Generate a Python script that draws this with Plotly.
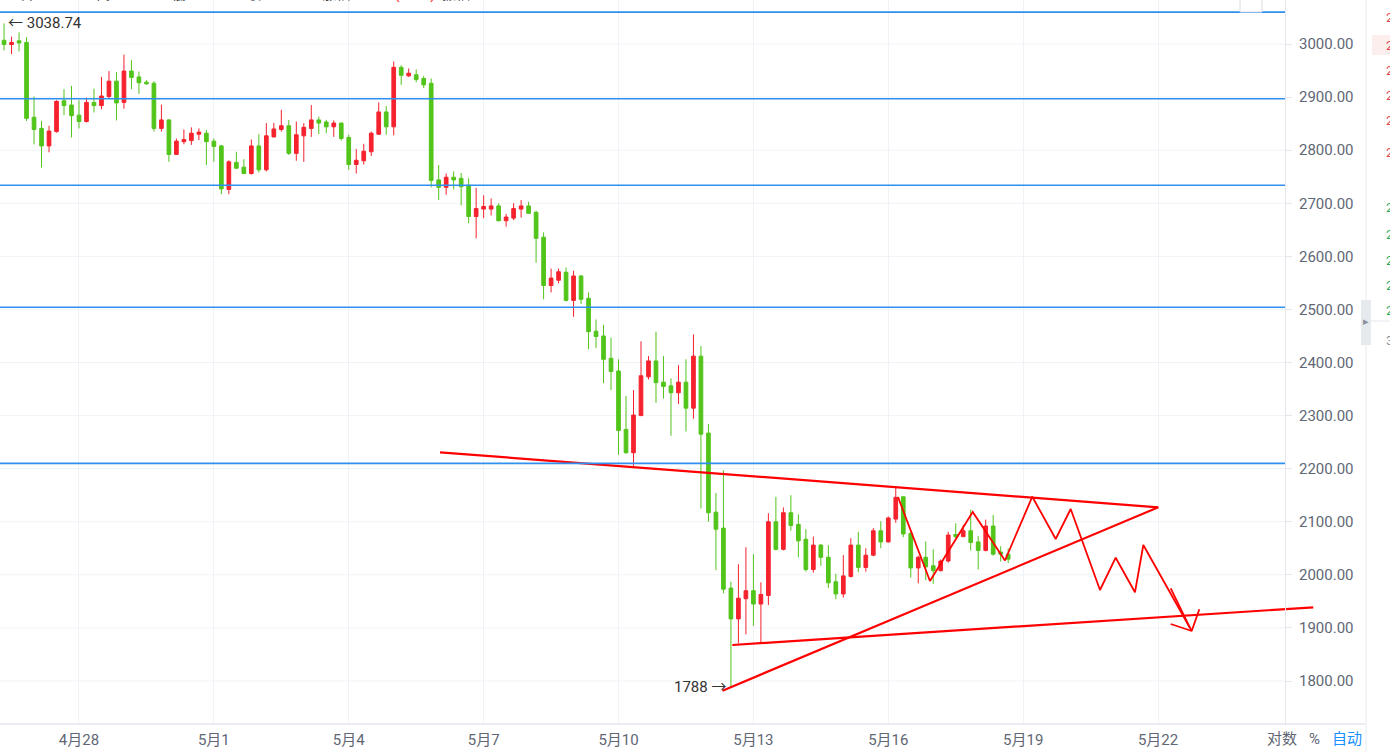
import plotly.graph_objects as go
import pandas as pd

# ---------------- data (ETH/USDT, 4h candles) ----------------
first_candle = "2022-04-26 04:00"
opens = [3011, 3007, 2999, 3006, 3003, 2862, 2841, 2808, 2835, 2893,
         2885, 2866, 2854, 2890, 2884, 2901, 2930, 2890, 2949, 2938,
         2928, 2926, 2841, 2857, 2792, 2816, 2818, 2830, 2832, 2817,
         2808, 2726, 2777, 2768, 2756, 2808, 2763, 2825, 2839, 2846,
         2794, 2827, 2841, 2857, 2853, 2844, 2851, 2824, 2773, 2780,
         2797, 2830, 2872, 2844, 2956, 2940, 2942, 2935, 2926, 2744,
         2730, 2749, 2747, 2734, 2675, 2689, 2689, 2695, 2667, 2672,
         2689, 2695, 2683, 2636, 2545, 2555, 2570, 2517, 2563, 2521,
         2459, 2450, 2408, 2384, 2274, 2230, 2300, 2373, 2403, 2363,
         2356, 2343, 2363, 2314, 2412, 2267, 2118, 2088, 1975, 1917,
         1955, 1970, 1945, 1961, 2100, 2048, 2117, 2095, 2067, 2010,
         2056, 2033, 1987, 1964, 1997, 2056, 2014, 2037, 2083, 2062,
         2105, 2147, 2078, 2013, 2033, 2017, 2008, 2026, 2076, 2072,
         2083, 2062, 2046, 2092, 2043, 2038.87]
highs = [3020, 3038.74, 3014, 3022, 3013, 2901, 2855, 2846, 2894, 2915,
         2921, 2894, 2899, 2916, 2938, 2949, 2947, 2980, 2970, 2948,
         2932, 2930, 2886, 2858, 2822, 2839, 2843, 2841, 2838, 2822,
         2810, 2781, 2797, 2783, 2820, 2830, 2851, 2851, 2876, 2857,
         2854, 2851, 2885, 2863, 2857, 2856, 2852, 2829, 2802, 2812,
         2835, 2890, 2883, 2967, 2960, 2954, 2952, 2940, 2935, 2772,
         2756, 2760, 2757, 2747, 2729, 2715, 2709, 2700, 2680, 2700,
         2706, 2703, 2686, 2645, 2577, 2577, 2579, 2573, 2565, 2532,
         2481, 2471, 2447, 2406, 2337, 2348, 2440, 2412, 2458, 2412,
         2370, 2395, 2406, 2453, 2431, 2284, 2154, 2197, 1987, 2020,
         2052, 2039, 1986, 2116, 2147, 2127, 2150, 2114, 2086, 2072,
         2058, 2056, 2002, 2037, 2069, 2081, 2050, 2088, 2101, 2110,
         2167, 2148, 2081, 2036, 2063, 2048, 2029, 2081, 2097, 2094,
         2123, 2073, 2104, 2113, 2054, 2049.87]
lows = [2995, 2988, 2981, 2986, 2855, 2811, 2767, 2796, 2833, 2866,
        2824, 2841, 2852, 2871, 2877, 2898, 2856, 2878, 2915, 2906,
        2923, 2835, 2835, 2778, 2791, 2811, 2810, 2819, 2772, 2778,
        2717, 2717, 2765, 2755, 2754, 2758, 2760, 2824, 2835, 2791,
        2780, 2778, 2825, 2830, 2832, 2825, 2818, 2763, 2756, 2773,
        2789, 2829, 2829, 2828, 2923, 2938, 2928, 2917, 2730, 2706,
        2716, 2726, 2696, 2662, 2634, 2672, 2677, 2666, 2656, 2668,
        2673, 2680, 2588, 2519, 2532, 2549, 2515, 2486, 2510, 2425,
        2427, 2361, 2348, 2226, 2228, 2204, 2299, 2368, 2324, 2332,
        2262, 2322, 2270, 2294, 2125, 2100, 2009, 1965, 1788, 1871,
        1888, 1904, 1871, 1943, 2046, 2046, 2083, 2033, 2006, 2004,
        2017, 1975, 1954, 1957, 1995, 2005, 2006, 2035, 2050, 2061,
        2098, 2071, 1995, 1984, 1990, 1983, 2006, 2023, 2069, 2071,
        2046, 2010, 2044, 2036, 2025, 2022.29]
closes = [3001, 2999, 3003, 3002, 2860, 2839, 2808, 2836, 2892, 2884,
          2865, 2854, 2890, 2884, 2902, 2930, 2889, 2949, 2937, 2927,
          2925, 2841, 2857, 2792, 2817, 2820, 2832, 2834, 2816, 2807,
          2727, 2778, 2766, 2756, 2808, 2763, 2827, 2840, 2846, 2794,
          2829, 2843, 2857, 2851, 2844, 2851, 2822, 2773, 2781, 2798,
          2832, 2872, 2844, 2956, 2941, 2945, 2933, 2923, 2743, 2730,
          2749, 2744, 2731, 2675, 2690, 2694, 2695, 2667, 2674, 2690,
          2695, 2681, 2634, 2545, 2559, 2571, 2517, 2563, 2519, 2458,
          2449, 2406, 2383, 2272, 2230, 2301, 2375, 2403, 2362, 2355,
          2343, 2363, 2314, 2412, 2265, 2117, 2086, 1973, 1917, 1956,
          1970, 1945, 1963, 2100, 2048, 2117, 2093, 2064, 2010, 2056,
          2033, 1985, 1964, 1998, 2056, 2014, 2037, 2083, 2062, 2107,
          2146, 2077, 2013, 2033, 2015, 2008, 2026, 2075, 2072, 2083,
          2061, 2046, 2092, 2039, 2039, 2029.53]

price_ticks = [1800, 1900, 2000, 2100, 2200, 2300, 2400, 2500, 2600,
               2700, 2800, 2900, 3000]
date_ticks = ["2022-04-28", "2022-05-01", "2022-05-04", "2022-05-07",
              "2022-05-10", "2022-05-13", "2022-05-16", "2022-05-19",
              "2022-05-22"]
date_labels = ["4月28", "5月1", "5月4", "5月7", "5月10", "5月13",
               "5月16", "5月19", "5月22"]

# horizontal blue levels drawn by the user
blue_levels = [3060, 2897, 2734, 2504, 2210]

# red hand-drawn lines (time, price)
resistance_t = ["2022-05-06 00:42", "2022-05-22 00:08"]
resistance_p = [2230.8, 2127.2]
support_t = ["2022-05-12 07:30", "2022-05-22 00:08"]
support_p = [1781.8, 2127.2]
base_t = ["2022-05-12 12:45", "2022-05-25 10:52"]
base_p = [1867.8, 1938.8]
zigzag_t = ["2022-05-16 05:11", "2022-05-16 22:15", "2022-05-17 21:04",
            "2022-05-18 14:18", "2022-05-19 04:52", "2022-05-19 17:22",
            "2022-05-20 01:22", "2022-05-20 17:01", "2022-05-21 01:23",
            "2022-05-21 11:41", "2022-05-21 16:08", "2022-05-22 17:58",
            "2022-05-22 22:02"]
zigzag_p = [2146.6, 1988.4, 2118.4, 2027.0, 2147.2, 2067.5, 2124.0,
            1971.4, 2032.3, 1967.1, 2056.2, 1894.2, 1935.1]
shaft_t = ["2022-05-22 06:46", "2022-05-22 17:04"]
shaft_p = [1974.6, 1899.9]
barb_t = ["2022-05-22 06:46", "2022-05-22 17:58"]
barb_p = [1907.4, 1894.2]

# ---------------- styling ----------------
W, H = 1390, 752
PLOT_BOTTOM = 724
AXIS_X = 1285
RED = "#f5222d"
GREEN = "#52c41a"
GRID = "#eff2f7"
AXIS_LINE = "#e3e6ec"
TXT = "#5f6775"
DRAW_RED = "#ff0000"
BLUE = "#2f90ef"
FONT = "Roboto, 'Noto Sans CJK SC', sans-serif"

times = pd.date_range(first_candle, periods=len(opens), freq="4h")
ax_pos = AXIS_X / W

fig = go.Figure()
fig.add_trace(go.Candlestick(
    x=times, open=opens, high=highs, low=lows, close=closes,
    increasing=dict(line=dict(color=RED, width=1), fillcolor=RED),
    decreasing=dict(line=dict(color=GREEN, width=1), fillcolor=GREEN),
    hoverinfo="skip", showlegend=False,
))

def red_line(t, p, width=2.0):
    fig.add_trace(go.Scatter(x=pd.to_datetime(t), y=p, mode="lines",
                             line=dict(color=DRAW_RED, width=width),
                             hoverinfo="skip", showlegend=False))

red_line(resistance_t, resistance_p, 2.2)
red_line(support_t, support_p, 2.2)
red_line(base_t, base_p, 2.2)
red_line(zigzag_t, zigzag_p, 1.8)
red_line(shaft_t, shaft_p, 1.8)
red_line(barb_t, barb_p, 1.8)

shapes = []
for p in price_ticks:
    shapes.append(dict(type="line", xref="paper", yref="y", x0=0, x1=ax_pos,
                       y0=p, y1=p, line=dict(color=GRID, width=1), layer="below"))
for lv in blue_levels:
    shapes.append(dict(type="line", xref="paper", yref="y", x0=0, x1=ax_pos,
                       y0=lv, y1=lv, line=dict(color=BLUE, width=1.6), layer="above"))
# bottom border / right panel
below = -(H - PLOT_BOTTOM) / PLOT_BOTTOM
shapes.append(dict(type="line", xref="paper", yref="paper", x0=0, x1=1365 / W,
                   y0=0, y1=0, line=dict(color=AXIS_LINE, width=1.5)))
shapes.append(dict(type="line", xref="paper", yref="paper", x0=1366 / W, x1=1366 / W,
                   y0=below, y1=H / PLOT_BOTTOM, line=dict(color="#e8eaee", width=1)))
shapes.append(dict(type="rect", xref="paper", yref="paper", x0=1372 / W, x1=1,
                   y0=1 - 55 / PLOT_BOTTOM, y1=1 - 35 / PLOT_BOTTOM,
                   fillcolor="#fdeeee", line=dict(width=0), layer="below"))
shapes.append(dict(type="line", xref="paper", yref="paper", x0=1370 / W, x1=1,
                   y0=1 - 321 / PLOT_BOTTOM, y1=1 - 321 / PLOT_BOTTOM,
                   line=dict(color="#e3e6ec", width=1)))
shapes.append(dict(type="rect", xref="paper", yref="paper", x0=1361 / W, x1=1371 / W,
                   y0=1 - 345 / PLOT_BOTTOM, y1=1 - 300 / PLOT_BOTTOM,
                   fillcolor="#e6e9ee", line=dict(width=0)))
shapes.append(dict(type="rect", xref="paper", yref="paper", x0=1240 / W, x1=1262 / W,
                   y0=1 - 12 / PLOT_BOTTOM, y1=1.02,
                   fillcolor="white", line=dict(color="#d9dce2", width=1)))

ann = []
ann.append(dict(x=times[1], y=highs[1], xref="x", yref="y",
                text="← %.2f" % max(highs), showarrow=False, xanchor="left",
                yanchor="middle", xshift=2, font=dict(size=15, color="#333333")))
i_low = lows.index(min(lows))
ann.append(dict(x=times[i_low], y=lows[i_low], xref="x", yref="y",
                text="%d →" % min(lows), showarrow=False, xanchor="right",
                yanchor="middle", xshift=-3, font=dict(size=15, color="#333333")))
# clipped header line
r = lambda v: "<span style='color:%s'>%s</span>" % (RED, v)
header = ("00 开:" + r("%.2f" % opens[-1]) + "  高:" + r("%.2f" % highs[-1]) +
          "  低:" + r("%.2f" % lows[-1]) + "  收:" + r("%.2f" % closes[-1]) +
          "  涨幅: " + r("0.44%( 9.81)") + "  振幅:" + r("1.31%"))
ann.append(dict(x=0, y=1, xref="paper", yref="paper", text=header, showarrow=False,
                xanchor="left", yanchor="middle", yshift=6, xshift=0,
                font=dict(size=14, color="#444444")))
# bottom-right controls
for txt, px, col in [("对数", 1282, TXT), ("%", 1314, TXT), ("自动", 1347, "#1890ff")]:
    ann.append(dict(x=px / W, y=0, xref="paper", yref="paper", text=txt,
                    showarrow=False, xanchor="center", yanchor="middle",
                    yshift=-15, font=dict(size=15, color=col)))
ann.append(dict(x=1366 / W, y=1 - 322 / PLOT_BOTTOM, xref="paper", yref="paper",
                text="▸", showarrow=False, xanchor="center", yanchor="middle",
                font=dict(size=11, color="#8a919c")))
# partially visible right panel numbers
for ypx, col in [(18, "#e0434b"), (45, "#e0434b"), (70, "#e0434b"), (95, "#e0434b"),
                 (120, "#e0434b"), (152, "#e0434b"), (208, "#26a65b"),
                 (235, "#26a65b"), (260, "#26a65b"), (285, "#26a65b"),
                 (310, "#26a65b")]:
    ann.append(dict(x=1384 / W, y=1 - ypx / PLOT_BOTTOM, xref="paper", yref="paper",
                    text="2", showarrow=False, xanchor="left", yanchor="middle",
                    font=dict(size=13, color=col)))
ann.append(dict(x=1384 / W, y=1 - 340 / PLOT_BOTTOM, xref="paper", yref="paper",
                text="3", showarrow=False, xanchor="left", yanchor="middle",
                font=dict(size=13, color="#8a919c")))

fig.update_layout(
    width=W, height=H,
    margin=dict(l=0, r=0, t=0, b=H - PLOT_BOTTOM, autoexpand=False),
    paper_bgcolor="white", plot_bgcolor="white",
    font=dict(family=FONT, size=15, color=TXT),
    boxgap=0.3,
    shapes=shapes, annotations=ann,
    xaxis=dict(
        domain=[0, 1],
        range=["2022-04-26 05:50", "2022-05-27 03:49"],
        type="date",
        tickvals=pd.to_datetime(date_ticks), ticktext=date_labels,
        showgrid=True, gridcolor=GRID, gridwidth=1,
        zeroline=False, showline=False, ticks="",
        ticklabelstandoff=5,
        tickfont=dict(size=15, color=TXT),
        rangeslider=dict(visible=False), fixedrange=True,
        automargin=False,
    ),
    yaxis=dict(
        anchor="free", position=ax_pos, side="right",
        range=[1718.99, 3082.89],
        tickvals=price_ticks, tickformat=".2f",
        showgrid=False, zeroline=False,
        showline=True, linecolor=AXIS_LINE, linewidth=1,
        ticks="outside", ticklen=6, tickcolor=AXIS_LINE,
        ticklabelstandoff=4,
        tickfont=dict(size=15, color=TXT),
        automargin=False, fixedrange=True,
    ),
)

fig.write_html(
    "out.html",
    config={"displayModeBar": False, "staticPlot": True},
    post_script="document.body.style.margin='0';document.body.style.overflow='hidden';",
)
